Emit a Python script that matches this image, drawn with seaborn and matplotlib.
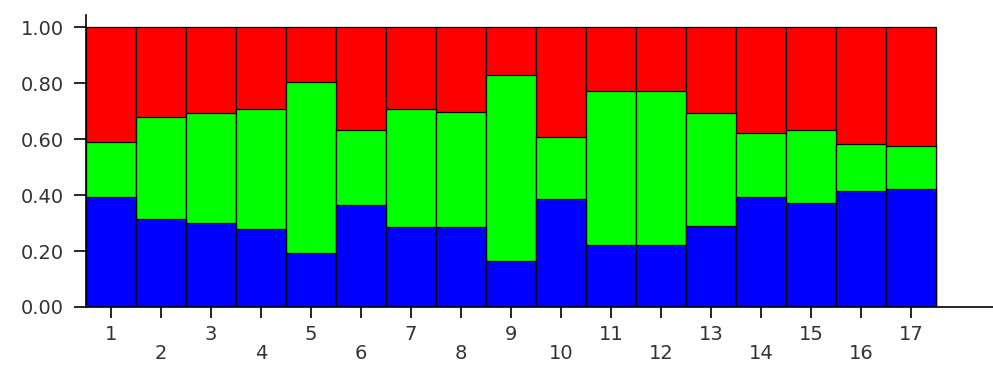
import matplotlib
matplotlib.use("Agg")
import matplotlib.pyplot as plt
import seaborn as sns
import pandas as pd

# Anteile je Gruppe (unten blau, Mitte grün, oben rot)
groups = [str(i) for i in range(1, 18)]
blue = [0.394, 0.313, 0.301, 0.280, 0.194, 0.364, 0.285, 0.285, 0.164,
        0.386, 0.221, 0.221, 0.290, 0.392, 0.373, 0.414, 0.421]
green = [0.196, 0.364, 0.391, 0.426, 0.611, 0.270, 0.421, 0.413, 0.663,
         0.222, 0.550, 0.550, 0.402, 0.228, 0.261, 0.168, 0.155]
red = [0.410, 0.323, 0.308, 0.294, 0.195, 0.366, 0.294, 0.302, 0.173,
       0.392, 0.229, 0.229, 0.308, 0.380, 0.366, 0.418, 0.424]
y_ticks = [0.0, 0.2, 0.4, 0.6, 0.8, 1.0]

df = pd.DataFrame({"group": groups, "blue": blue, "green": green, "red": red})
df["top_blue"] = df["blue"]
df["top_green"] = df["blue"] + df["green"]
df["top_red"] = df["top_green"] + df["red"]

sns.set_style("white")
plt.rcParams["font.family"] = ["DejaVu Sans"]

fig = plt.figure(figsize=(9.93, 3.65), dpi=100)
ax = fig.add_axes([86 / 993, 58 / 365, 907 / 993, 292 / 365])

# gestapelt durch Überlagerung: erst die Gesamthöhe, dann die unteren Teile
for col, color in [("top_red", "#ff0000"), ("top_green", "#00ff00"), ("top_blue", "#0000ff")]:
    sns.barplot(data=df, x="group", y=col, order=groups, color=color, width=1.0,
                saturation=1, edgecolor="black", linewidth=0.9, ax=ax)

ax.set_xlim(-0.5, -0.5 + 907 / 50)
ax.set_ylim(0, 1.043)
ax.set_xlabel("")
ax.set_ylabel("")

ax.set_yticks(y_ticks)
ax.set_yticklabels([f"{v:.2f}" for v in y_ticks])
ax.set_xticks(range(len(groups)))
ax.set_xticklabels([g if i % 2 == 0 else "\n" + g for i, g in enumerate(groups)],
                   linespacing=1.0)

for s in ["top", "right"]:
    ax.spines[s].set_visible(False)
for s in ["left", "bottom"]:
    ax.spines[s].set_color("black")
    ax.spines[s].set_linewidth(1.2)

ax.tick_params(axis="y", direction="out", length=9, width=1.2, color="black",
               pad=7, labelsize=14, labelcolor="#333333", left=True)
ax.tick_params(axis="x", direction="out", length=8, width=1.2, color="black",
               pad=5, labelsize=14, labelcolor="#333333", bottom=True)
ax.grid(False)

fig.savefig("out.png", dpi=100)
